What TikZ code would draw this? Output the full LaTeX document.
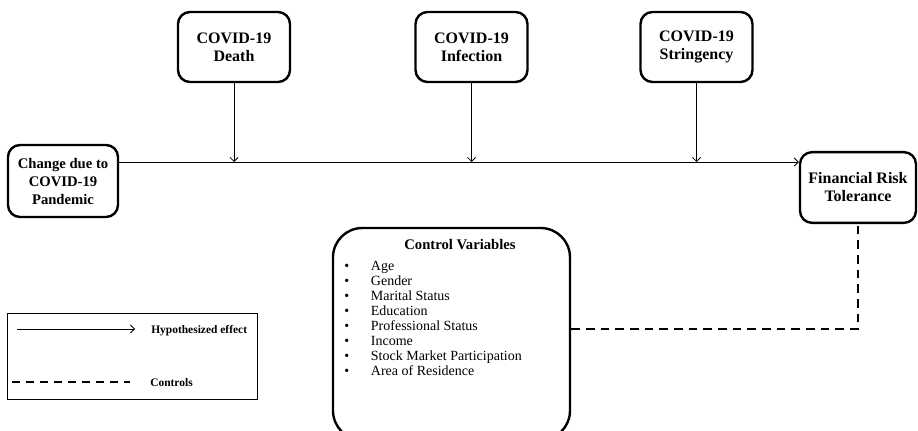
\documentclass[tikz,border=0pt]{standalone}
\usepackage{fontspec}
\setmainfont{Liberation Serif}
\usepackage{tikz}
\usetikzlibrary{arrows.meta}

\newcommand{\itm}{\makebox[20pt][l]{\textbullet}}

\begin{document}
\begin{tikzpicture}[x=0.75pt, y=-0.75pt,
        factor/.style={rectangle, draw, line width=1.8pt, rounded corners=9pt, minimum width=84pt, minimum height=52.5pt, align=center, font=\bfseries\fontsize{12}{13.5}\selectfont},
        panel/.style={rectangle, draw, line width=1.8pt, rounded corners=22pt, minimum width=177.75pt, minimum height=159pt},
        arrow/.style={-{Straight Barb[length=3pt, width=6pt]}, line width=0.6pt},
        ctrl/.style={line width=1.5pt, dash pattern=on 6.5pt off 4.5pt},
        lbl/.style={anchor=west, inner sep=0pt, font=\bfseries\fontsize{8.6}{10}\selectfont}
    ]
        \useasboundingbox (0,0) rectangle (918,431);

        \node[factor] (death) at (234,47) {COVID-19\\Death};
        \node[factor] (infection) at (471.5,47) {COVID-19\\Infection};
        \node[factor] (stringency) at (696.5,47) {COVID-19\\Stringency};
        \node[factor, minimum width=82.5pt, minimum height=54pt, font=\bfseries\fontsize{11}{13.5}\selectfont] (change) at (63,181) {Change due to\\COVID-19\\Pandemic};
        \node[factor, minimum width=87pt, minimum height=53pt] (risk) at (858,187.5) {Financial Risk\\Tolerance};

        \node[panel] (controls) at (451.5,334) {};
        \node[font=\bfseries\fontsize{11}{12}\selectfont] (ctitle) at (460,245) {Control Variables};
        \node[anchor=north west, inner sep=0pt, align=left, font=\fontsize{10.5}{11.3}\selectfont] (clist) at (344,261) {%
            \itm Age\\ \itm Gender\\ \itm Marital Status\\ \itm Education\\ \itm Professional Status\\
            \itm Income\\ \itm Stock Market Participation\\ \itm Area of Residence};

        \coordinate (hit1) at (death |- 0,162);
        \coordinate (hit2) at (infection |- 0,162);
        \coordinate (hit3) at (stringency |- 0,162);
        \coordinate (bend) at (risk.south |- 0,329);

        \draw[arrow] (change.east |- hit1) -- (risk.west |- hit1);
        \draw[arrow] (death) -- (hit1);
        \draw[arrow] (infection) -- (hit2);
        \draw[arrow] (stringency) -- (hit3);
        \draw[ctrl] (controls.east |- bend) -- (bend) -- (risk.south);

        % legend
        \node[draw, line width=0.8pt, minimum width=188pt, minimum height=65pt] (legend) at (132.5,356.5) {};
        \coordinate (la1) at (17,329);
        \coordinate (la2) at (135,329);
        \coordinate (lc1) at (12,382);
        \coordinate (lc2) at (130,382);
        \draw[arrow] (la1) -- (la2);
        \draw[ctrl, line width=1.2pt, dash pattern=on 6pt off 4.5pt] (lc1) -- (lc2);
        \node[lbl] (lhyp) at (151,331) {Hypothesized effect};
        \node[lbl] (lctrl) at (150,383) {Controls};
    \end{tikzpicture}
\end{document}
